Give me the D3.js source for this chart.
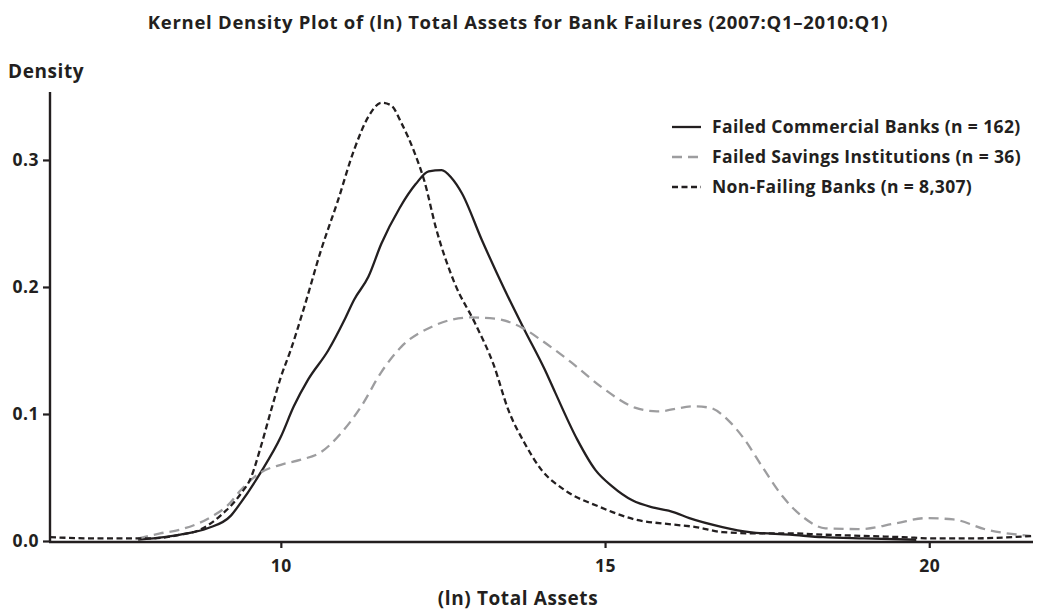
<!DOCTYPE html>
<html>
<head>
<meta charset="utf-8">
<script src="https://cdn.jsdelivr.net/npm/d3@7"></script>
<style>
  body { margin: 0; background: #fff; }
  text { font-family: "Open Sans", Lato, sans-serif; font-weight: 700; fill: #231f20; }
</style>
</head>
<body>
<svg id="chart" width="1037" height="611"></svg>
<script>
// series: x = (ln) total assets, y = density
const commercialX = [7.8, 8.2, 8.45, 8.87, 9.23, 9.38, 9.69, 10.0, 10.2, 10.42, 10.73, 10.98, 11.13, 11.35, 11.55, 11.83, 12.08, 12.28, 12.48, 12.63, 12.79, 13.1, 13.45, 13.76, 14.07, 14.23, 14.57, 14.85, 15.11, 15.42, 15.77, 16.04, 16.3, 16.81, 17.23, 17.85, 18.36, 19.0, 19.8];
const commercialY = [0.001, 0.003, 0.005, 0.010, 0.020, 0.030, 0.054, 0.082, 0.106, 0.127, 0.150, 0.174, 0.190, 0.208, 0.234, 0.262, 0.281, 0.291, 0.292, 0.286, 0.274, 0.237, 0.198, 0.166, 0.135, 0.117, 0.080, 0.056, 0.043, 0.032, 0.026, 0.023, 0.018, 0.011, 0.007, 0.005, 0.003, 0.002, 0.001];

const savingsX = [7.8, 8.14, 8.45, 8.96, 9.18, 9.38, 9.69, 10.0, 10.31, 10.62, 10.93, 11.24, 11.55, 11.86, 12.34, 12.92, 13.3, 13.72, 14.02, 14.47, 14.95, 15.46, 15.8, 16.37, 16.61, 16.92, 17.15, 17.43, 17.74, 18.05, 18.4, 18.93, 19.49, 19.95, 20.37, 20.88, 21.56];
const savingsY = [0.002, 0.006, 0.009, 0.020, 0.028, 0.040, 0.054, 0.060, 0.064, 0.070, 0.085, 0.106, 0.133, 0.153, 0.169, 0.176, 0.175, 0.168, 0.158, 0.141, 0.121, 0.105, 0.102, 0.106, 0.105, 0.094, 0.080, 0.058, 0.035, 0.019, 0.010, 0.0094, 0.014, 0.018, 0.017, 0.009, 0.004];

const nonFailingX = [6.44, 7.2, 7.99, 8.45, 8.76, 9.07, 9.38, 9.54, 9.69, 9.85, 10.0, 10.15, 10.36, 10.62, 10.88, 11.13, 11.35, 11.55, 11.7, 11.86, 12.06, 12.21, 12.4, 12.68, 12.99, 13.28, 13.51, 13.76, 14.02, 14.38, 14.91, 15.46, 16.04, 16.4, 16.81, 17.32, 17.85, 18.36, 19.0, 19.6, 20.1, 20.6, 21.6];
const nonFailingY = [0.003, 0.002, 0.002, 0.005, 0.009, 0.020, 0.037, 0.050, 0.074, 0.103, 0.129, 0.150, 0.184, 0.229, 0.268, 0.308, 0.334, 0.345, 0.343, 0.329, 0.306, 0.284, 0.245, 0.203, 0.172, 0.139, 0.103, 0.077, 0.056, 0.040, 0.027, 0.017, 0.013, 0.011, 0.007, 0.006, 0.006, 0.005, 0.004, 0.003, 0.002, 0.002, 0.004];

const xTicks = [10, 15, 20];
const yTicks = [0.0, 0.1, 0.2, 0.3];

const seriesNames = [
  'Failed Commercial Banks (n = 162)',
  'Failed Savings Institutions (n = 36)',
  'Non-Failing Banks (n = 8,307)'
];

const series = [
  { name: seriesNames[0], xs: commercialX, ys: commercialY, color: '#231f20', dash: null },
  { name: seriesNames[1], xs: savingsX, ys: savingsY, color: '#9d9d9f', dash: '10,6' },
  { name: seriesNames[2], xs: nonFailingX, ys: nonFailingY, color: '#231f20', dash: '6,3.5' }
];

const svg = d3.select('#chart');
const plotLeft = 50, plotRight = 1033, plotTop = 92, plotBottom = 541;

const x = d3.scaleLinear().domain([6.44, 21.6]).range([plotLeft, plotRight]);
const y = d3.scaleLinear().domain([0, 0.3535]).range([plotBottom, plotTop]);

// title
svg.append('text')
  .attr('x', 518).attr('y', 29)
  .attr('text-anchor', 'middle')
  .style('font-size', '18.5px')
  .style('letter-spacing', '0.72px')
  .text('Kernel Density Plot of (ln) Total Assets for Bank Failures (2007:Q1\u20132010:Q1)');

svg.append('text')
  .attr('x', 8).attr('y', 78)
  .style('font-size', '19px')
  .style('letter-spacing', '0.6px')
  .text('Density');

svg.append('text')
  .attr('x', 518).attr('y', 605)
  .attr('text-anchor', 'middle')
  .style('font-size', '19px')
  .style('letter-spacing', '0.6px')
  .text('(ln) Total Assets');

// axes
const xAxis = svg.append('g')
  .attr('transform', 'translate(0,' + plotBottom + ')')
  .call(d3.axisBottom(x).tickValues(xTicks).tickSize(7).tickPadding(12).tickFormat(d3.format('d')));

const yAxis = svg.append('g')
  .attr('transform', 'translate(' + plotLeft + ',0)')
  .call(d3.axisLeft(y).tickValues(yTicks).tickSize(7).tickPadding(4).tickFormat(d3.format('.1f')));

[xAxis, yAxis].forEach(function (g) {
  g.select('.domain').remove();
  g.selectAll('.tick line').attr('stroke', '#231f20').attr('stroke-width', 2.2);
  g.selectAll('.tick text')
    .style('font-family', '"Open Sans", Lato, sans-serif')
    .style('font-weight', 700)
    .style('font-size', '17.5px')
    .style('letter-spacing', '0.5px')
    .attr('fill', '#231f20');
});

svg.append('line')
  .attr('x1', plotLeft).attr('x2', plotLeft)
  .attr('y1', plotTop).attr('y2', plotBottom + 1)
  .attr('stroke', '#231f20').attr('stroke-width', 2.4);
svg.append('line')
  .attr('x1', plotLeft - 1).attr('x2', plotRight)
  .attr('y1', plotBottom + 1).attr('y2', plotBottom + 1)
  .attr('stroke', '#231f20').attr('stroke-width', 2.4);

// curves
const line = d3.line()
  .x(function (d) { return x(d[0]); })
  .y(function (d) { return y(d[1]); })
  .curve(d3.curveMonotoneX);

series.forEach(function (s) {
  const pts = s.xs.map(function (v, i) { return [v, s.ys[i]]; });
  svg.append('path')
    .datum(pts)
    .attr('d', line)
    .attr('fill', 'none')
    .attr('stroke', s.color)
    .attr('stroke-width', 2.3)
    .attr('stroke-dasharray', s.dash);
});

// legend
const legend = svg.append('g').attr('transform', 'translate(672,127)');
series.forEach(function (s, i) {
  const row = legend.append('g').attr('transform', 'translate(0,' + i * 30 + ')');
  row.append('line')
    .attr('x1', 0).attr('x2', 29)
    .attr('stroke', s.color)
    .attr('stroke-width', 2.3)
    .attr('stroke-dasharray', s.dash);
  row.append('text')
    .attr('x', 40).attr('y', 6)
    .style('font-size', '17.5px')
    .style('letter-spacing', '0.36px')
    .text(s.name);
});
</script>
</body>
</html>
